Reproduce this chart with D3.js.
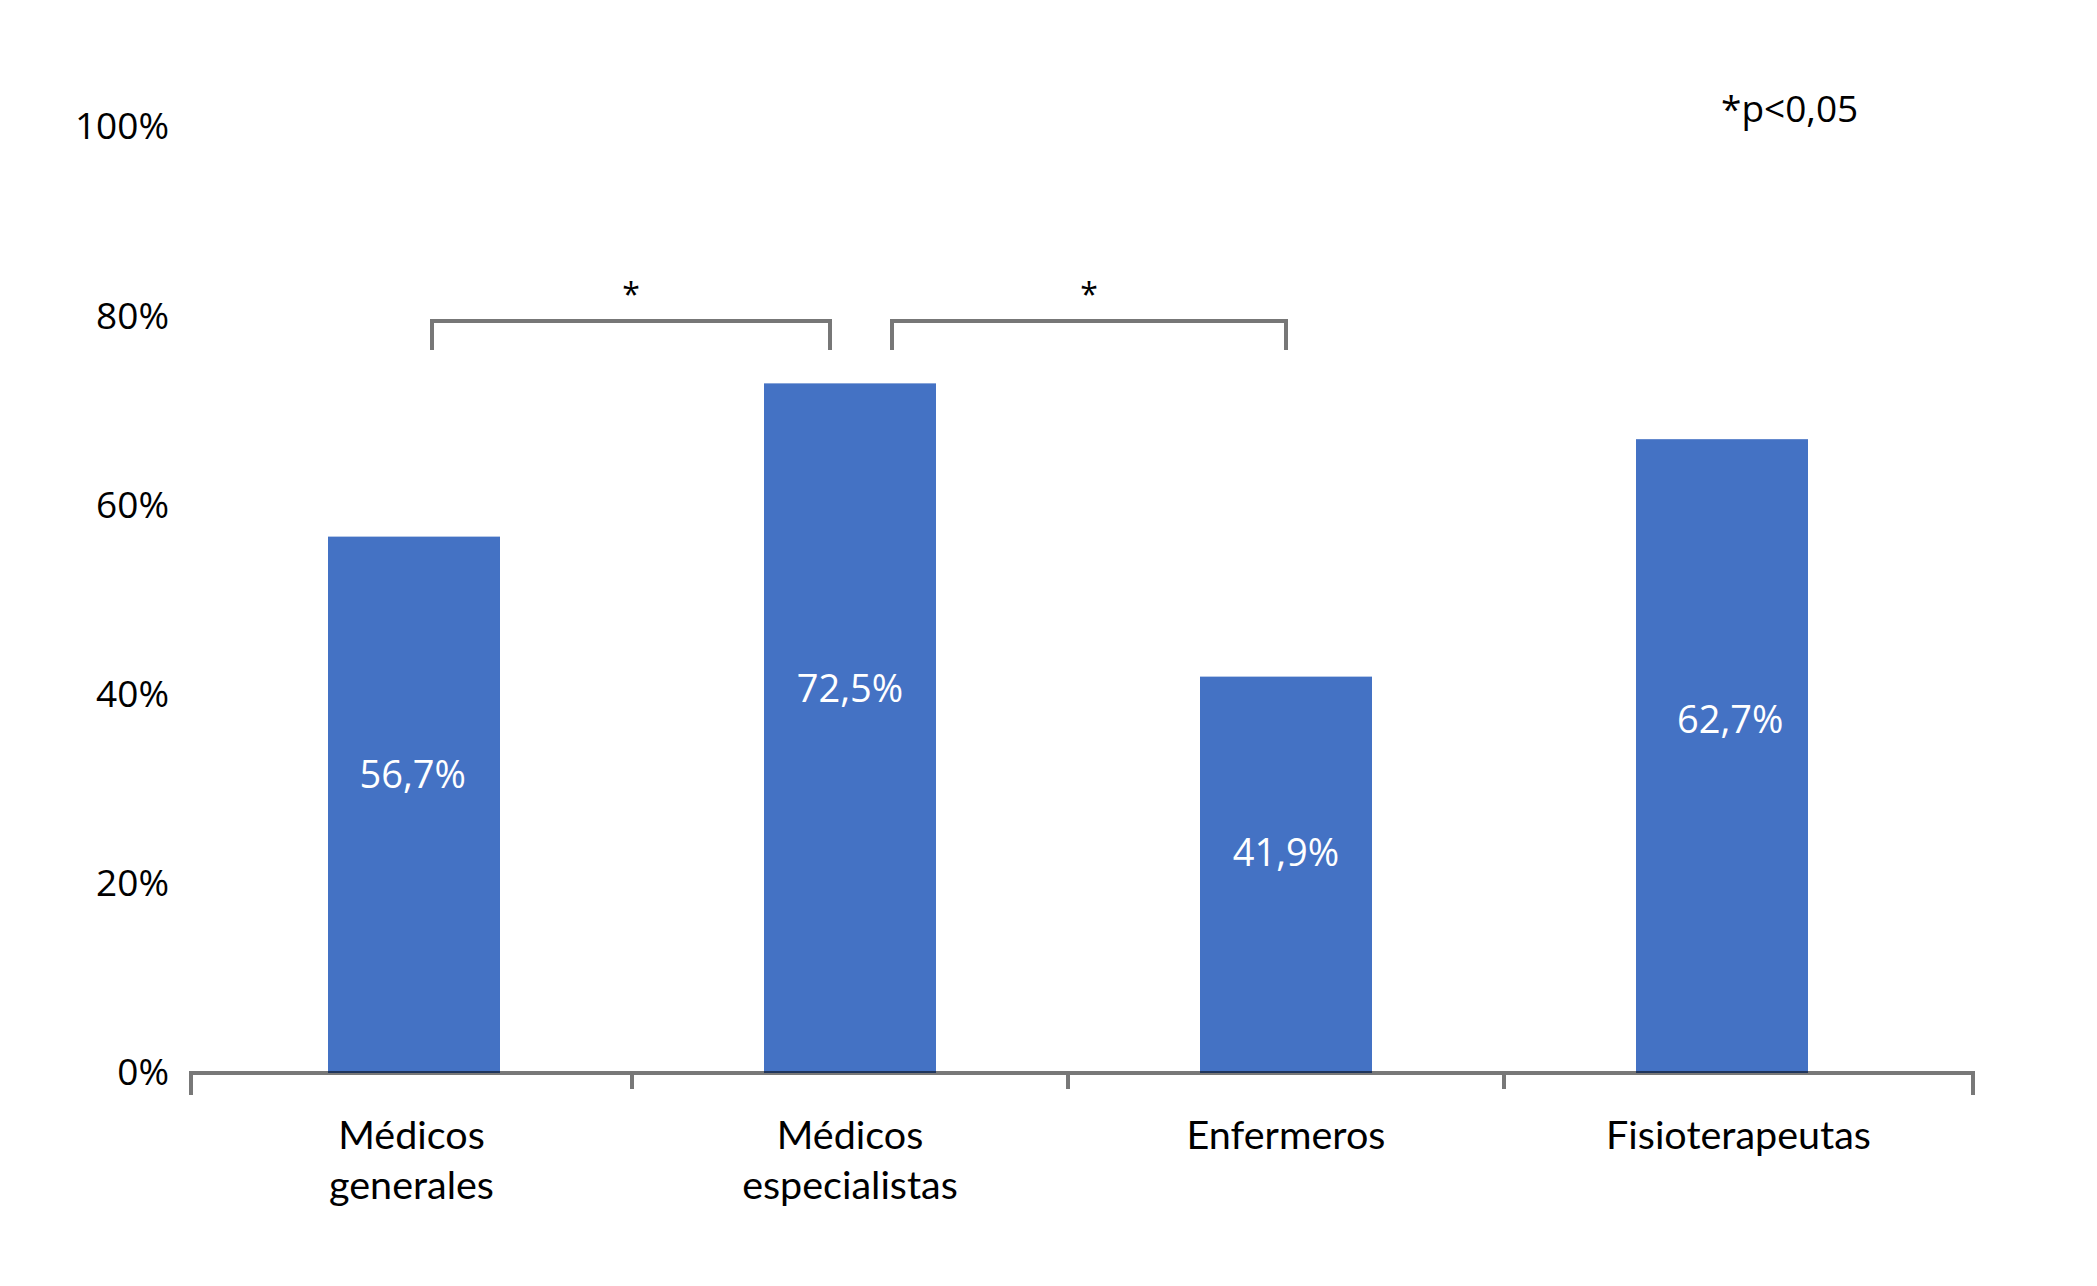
<!DOCTYPE html>
<html>
<head>
<meta charset="utf-8">
<script src="https://cdn.jsdelivr.net/npm/d3@7"></script>
<style>
  html, body { margin: 0; padding: 0; background: #fff; }
  svg { display: block; }
</style>
</head>
<body>
<svg id="chart" width="2097" height="1286"></svg>
<script>
// ---- Data ----
const categories = ["Médicos generales", "Médicos especialistas", "Enfermeros", "Fisioterapeutas"];
const categoryLines = [["Médicos", "generales"], ["Médicos", "especialistas"], ["Enfermeros"], ["Fisioterapeutas"]];
const barValues = [56.7, 72.9, 41.9, 67.0];          // bar heights as drawn in the picture
const valueLabels = ["56,7%", "72,5%", "41,9%", "62,7%"]; // labels as printed
const yTicks = [0, 20, 40, 60, 80, 100];
const comparisons = [[0, 1], [1, 2]];
const noteText = "*p<0,05";

// ---- Layout ----
const svg = d3.select("#chart");
const axisLeftX = 191, axisRightX = 1973;
const y = d3.scaleLinear().domain([0, 100]).range([1073, 127]);
const x = d3.scaleBand().domain(categories).range([196, 196 + 436 * 4])
  .paddingInner(0.6055).paddingOuter(0.6055 / 2);
const cx = c => x(c) + x.bandwidth() / 2;

// tick positions: axis ends plus boundaries between bands
const midTicks = categories.slice(1).map(c => x(c) - x.step() * x.paddingInner() / 2);
const allTicks = [axisLeftX, ...midTicks, axisRightX];
const slotCenter = i => (allTicks[i] + allTicks[i + 1]) / 2;

// Bars
svg.append("g").selectAll("rect").data(categories).join("rect")
  .attr("x", d => x(d))
  .attr("width", x.bandwidth())
  .attr("y", (d, i) => y(barValues[i]))
  .attr("height", (d, i) => y(0) - y(barValues[i]))
  .attr("fill", "#4472C4");

// Value labels
svg.append("g").selectAll("text").data(categories).join("text")
  .attr("x", (d, i) => (cx(d) + slotCenter(i)) / 2)
  .attr("y", (d, i) => y(barValues[i] * 0.56))
  .attr("text-anchor", "middle")
  .attr("dominant-baseline", "central")
  .attr("font-family", "'Open Sans', sans-serif")
  .attr("font-size", 38)
  .attr("fill", "#fff")
  .text((d, i) => valueLabels[i]);

// Y axis (labels only)
const yAxis = svg.append("g").attr("transform", `translate(${181},0)`)
  .call(d3.axisLeft(y).tickValues(yTicks).tickSize(0).tickPadding(12).tickFormat(d => d + "%"));
yAxis.select(".domain").remove();
yAxis.selectAll("text")
  .attr("font-family", "'Open Sans', sans-serif")
  .attr("font-size", 37)
  .attr("fill", "#000");

// X axis line and ticks
const xAxis = svg.append("g").attr("stroke", "#000").attr("stroke-opacity", 0.53).attr("stroke-width", 4);
xAxis.append("line").attr("x1", axisLeftX - 2).attr("x2", axisRightX + 2)
  .attr("y1", y(0)).attr("y2", y(0));
xAxis.selectAll("line.mid").data(midTicks).join("line").attr("class", "mid")
  .attr("x1", d => d).attr("x2", d => d)
  .attr("y1", y(0) + 2).attr("y2", y(0) + 16);
xAxis.selectAll("line.end").data([axisLeftX, axisRightX]).join("line").attr("class", "end")
  .attr("x1", d => d).attr("x2", d => d)
  .attr("y1", y(0) + 2).attr("y2", y(0) + 22);

// Category labels
const catG = svg.append("g")
  .attr("font-family", "Lato, sans-serif")
  .attr("font-size", 39.5)
  .attr("fill", "#000")
  .attr("text-anchor", "middle");
categories.forEach((c, i) => {
  const lx = slotCenter(i);
  const t = catG.append("text").attr("x", lx).attr("y", 1149);
  categoryLines[i].forEach((line, j) => {
    t.append("tspan").attr("x", lx).attr("dy", j === 0 ? 0 : 50).text(line);
  });
});

// Significance brackets
const bracketInsets = [[18, -20], [42, 0]];
const brG = svg.append("g");
comparisons.forEach(([a, b], k) => {
  const x1 = cx(categories[a]) + bracketInsets[k][0];
  const x2 = cx(categories[b]) + bracketInsets[k][1];
  const top = y(79.5), bottom = top + 29;
  brG.append("path")
    .attr("d", `M${x1},${bottom}V${top}H${x2}V${bottom}`)
    .attr("fill", "none").attr("stroke", "#777").attr("stroke-width", 4);
  brG.append("text")
    .attr("x", (x1 + x2) / 2).attr("y", top - 15)
    .attr("text-anchor", "middle")
    .attr("font-family", "'Open Sans', sans-serif")
    .attr("font-size", 32)
    .text("*");
});

// Note
svg.append("text")
  .attr("x", 1721).attr("y", 122)
  .attr("font-family", "'Open Sans', sans-serif")
  .attr("font-size", 37)
  .attr("fill", "#000")
  .text(noteText);
</script>
</body>
</html>
